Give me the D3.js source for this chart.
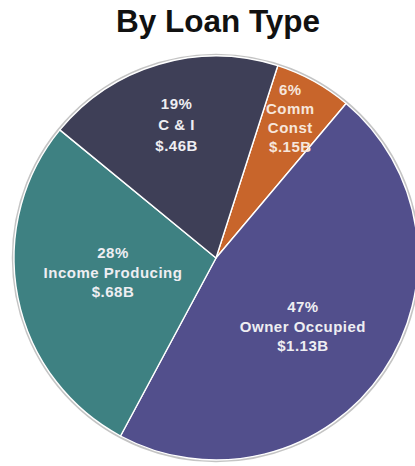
<!DOCTYPE html>
<html>
<head>
<meta charset="utf-8">
<script src="https://cdn.jsdelivr.net/npm/d3@7/dist/d3.min.js"></script>
<style>
  html, body { margin: 0; padding: 0; background: #ffffff; }
  svg { display: block; }
</style>
</head>
<body>
<svg id="chart" width="415" height="466"></svg>
<script>
// Loan portfolio by type, in billions of dollars (clockwise from Comm Const)
const categories = ["Comm\nConst", "Owner Occupied", "Income Producing", "C & I"];
const amounts = [0.15, 1.13, 0.68, 0.46];
const amountLabels = ["$.15B", "$1.13B", "$.68B", "$.46B"];
const percentLabels = ["6%", "47%", "28%", "19%"];
const sliceColors = ["#c8652b", "#524f8c", "#3e8182", "#3e3f57"];

const width = 415, height = 466;
const cx = 216, cy = 258, radius = 202;
const startDeg = 17.8;

// Per-label fine placement: radius fraction and nudge in px
const labelLayout = [
  { r: 0.74, dx: 2, dy: -9 },
  { r: 0.55, dx: -5, dy: 6 },
  { r: 0.52, dx: 0, dy: -6 },
  { r: 0.69, dx: 0, dy: 0 }
];

const svg = d3.select("#chart");

svg.append("text")
  .attr("x", 218)
  .attr("y", 32)
  .attr("text-anchor", "middle")
  .attr("font-family", "Liberation Sans, Arial, sans-serif")
  .attr("font-weight", "bold")
  .attr("font-size", 31.5)
  .attr("fill", "#111111")
  .text("By Loan Type");

const pie = d3.pie()
  .sort(null)
  .value(d => d)
  .startAngle(startDeg * Math.PI / 180)
  .endAngle((startDeg + 360) * Math.PI / 180);

const arcs = pie(amounts);
const arc = d3.arc().innerRadius(0).outerRadius(radius);

const g = svg.append("g").attr("transform", `translate(${cx},${cy})`);

// soft grey rim around the pie
g.append("circle")
  .attr("r", radius + 1)
  .attr("fill", "none")
  .attr("stroke", "#b5b5b5")
  .attr("stroke-width", 2.5)
  .attr("opacity", 0.8);

g.selectAll("path.slice")
  .data(arcs)
  .join("path")
  .attr("class", "slice")
  .attr("d", arc)
  .attr("fill", (d, i) => sliceColors[i])
  .attr("stroke", "#ffffff")
  .attr("stroke-width", 1.4)
  .attr("stroke-linejoin", "round");

const lineH = [19, 19.5, 19.5, 21];

arcs.forEach((d, i) => {
  const lay = labelLayout[i];
  const la = d3.arc().innerRadius(radius * lay.r).outerRadius(radius * lay.r);
  const [x, y] = la.centroid(d);
  const lines = [percentLabels[i], ...categories[i].split("\n"), amountLabels[i]];
  const n = lines.length;
  const t = g.append("text")
    .attr("text-anchor", "middle")
    .attr("font-family", "Liberation Sans, Arial, sans-serif")
    .attr("font-weight", "bold")
    .attr("font-size", 15)
    .attr("letter-spacing", 0.5)
    .attr("fill", i === 0 ? "#f6e6dc" : "#eeeef2");
  lines.forEach((s, k) => {
    t.append("tspan")
      .attr("x", x + lay.dx)
      .attr("y", y + lay.dy + (k - (n - 1) / 2) * lineH[i])
      .attr("dy", "0.35em")
      .text(s);
  });
});
</script>
</body>
</html>
